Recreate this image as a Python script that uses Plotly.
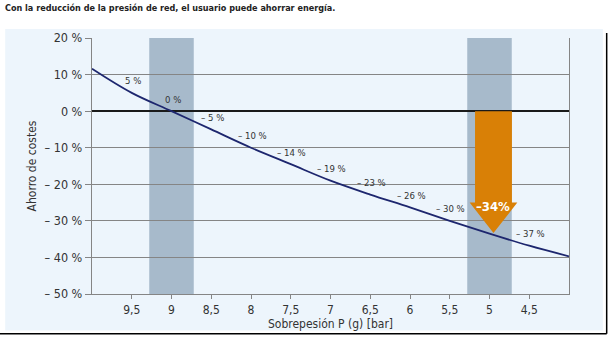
import plotly.graph_objects as go

# ---- data ----
pressure = [10.0, 9.5, 9.0, 8.5, 8.0, 7.5, 7.0, 6.5, 6.0, 5.5, 5.0, 4.5, 4.0]
savings = [11.6, 5.0, 0.0, -5.0, -10.0, -14.5, -19.0, -22.8, -26.3, -30.0, -33.5, -36.8, -39.7]

label_p = [9.5, 9.0, 8.5, 8.0, 7.5, 7.0, 6.5, 6.0, 5.5, 4.5]
label_v = [5.0, 0.0, -5.0, -10.0, -14.5, -19.0, -22.8, -26.3, -30.0, -36.8]
label_txt = ["5 %", "0 %", "– 5 %", "– 10 %", "– 14 %", "– 19 %", "– 23 %", "– 26 %", "– 30 %", "– 37 %"]

band_centers = [9.0, 5.0]
band_half = 0.28

arrow_p = 4.95
arrow_top = 0.0
arrow_head = -25.0
arrow_tip = -33.3
arrow_label = "–34%"

x_ticks = [9.5, 9.0, 8.5, 8.0, 7.5, 7.0, 6.5, 6.0, 5.5, 5.0, 4.5]
x_ticktext = ["9,5", "9", "8,5", "8", "7,5", "7", "6,5", "6", "5,5", "5", "4,5"]
y_ticks = [20, 10, 0, -10, -20, -30, -40, -50]
y_ticktext = ["20 %", "10 %", "0 %", "– 10 %", "– 20 %", "– 30 %", "– 40 %", "– 50 %"]

title = "Con la reducción de la presión de red, el usuario puede ahorrar energía."
x_title = "Sobrepesión P (g) [bar]"
y_title = "Ahorro de costes"

FONT = "DejaVu Sans Condensed, Open Sans, sans-serif"
PANEL = "#EDF5FC"
GRID = "#858585"
BAND = "#A7BACB"
NAVY = "#1D266E"
ORANGE = "#D98006"
TXT = "#333333"

fig = go.Figure()

shapes = []
# light blue panel
shapes.append(dict(type="rect", xref="paper", yref="paper", x0=-0.182, x1=1.071, y0=-0.143, y1=1.035,
                   fillcolor=PANEL, line_width=0, layer="below"))
# frame lines at right and bottom
shapes.append(dict(type="line", xref="paper", yref="paper", x0=1.079, x1=1.079, y0=-0.155, y1=1.02,
                   line=dict(color="black", width=1.5)))
shapes.append(dict(type="line", xref="paper", yref="paper", x0=-0.2, x1=1.079, y0=-0.155, y1=-0.155,
                   line=dict(color="black", width=1.5)))
# bands
for c in band_centers:
    shapes.append(dict(type="rect", xref="x", yref="y", x0=c - band_half, x1=c + band_half, y0=-50, y1=20,
                       fillcolor=BAND, line_width=0, layer="below"))
# arrow
sw, hw = 0.232, 0.30
path = (f"M {arrow_p + sw} {arrow_top} L {arrow_p - sw} {arrow_top} L {arrow_p - sw} {arrow_head} "
        f"L {arrow_p - hw} {arrow_head} L {arrow_p} {arrow_tip} L {arrow_p + hw} {arrow_head} "
        f"L {arrow_p + sw} {arrow_head} Z")
shapes.append(dict(type="path", xref="x", yref="y", path=path, fillcolor=ORANGE, line_width=0, layer="above"))

fig.add_trace(go.Scatter(x=pressure, y=savings, mode="lines", line=dict(color=NAVY, width=1.8, shape="spline"),
                         hoverinfo="skip", showlegend=False))

annotations = []
for p, v, t in zip(label_p, label_v, label_txt):
    annotations.append(dict(x=p, y=v, text=t, showarrow=False, yshift=12, xshift=1,
                            font=dict(family=FONT, size=9.5, color=TXT)))
annotations.append(dict(x=arrow_p, y=arrow_head, text=f"<b>{arrow_label}</b>", showarrow=False, yshift=-4,
                        font=dict(family=FONT, size=13, color="white")))
annotations.append(dict(xref="paper", yref="paper", x=-0.186, y=1.118, xanchor="left", yanchor="middle",
                        text=f"<b>{title}</b>", showarrow=False, font=dict(family=FONT, size=9, color="#222222")))

fig.update_layout(
    width=608, height=339,
    margin=dict(l=92, r=39, t=38, b=42),
    paper_bgcolor="white", plot_bgcolor=PANEL,
    shapes=shapes, annotations=annotations,
    font=dict(family=FONT, color=TXT),
    showlegend=False,
)
fig.update_xaxes(range=[10, 4], tickvals=x_ticks, ticktext=x_ticktext, showgrid=False, zeroline=False,
                 showline=True, linecolor=GRID, linewidth=1.4, ticks="outside", ticklen=4, tickcolor=GRID,
                 tickfont=dict(family=FONT, size=12, color=TXT),
                 title=dict(text=x_title, font=dict(family=FONT, size=12, color=TXT), standoff=2))
fig.update_yaxes(range=[-50, 20], tickvals=y_ticks, ticktext=y_ticktext, showgrid=True, gridcolor=GRID,
                 gridwidth=1.4, zeroline=True, zerolinecolor="#1a1a1a", zerolinewidth=1.8,
                 showline=True, mirror=True, linecolor=GRID, linewidth=1.4, ticks="outside", ticklen=6,
                 tickcolor=GRID, tickfont=dict(family=FONT, size=12.5, color=TXT),
                 title=dict(text=y_title, font=dict(family=FONT, size=12, color=TXT), standoff=5))

fig.write_html("out.html")
